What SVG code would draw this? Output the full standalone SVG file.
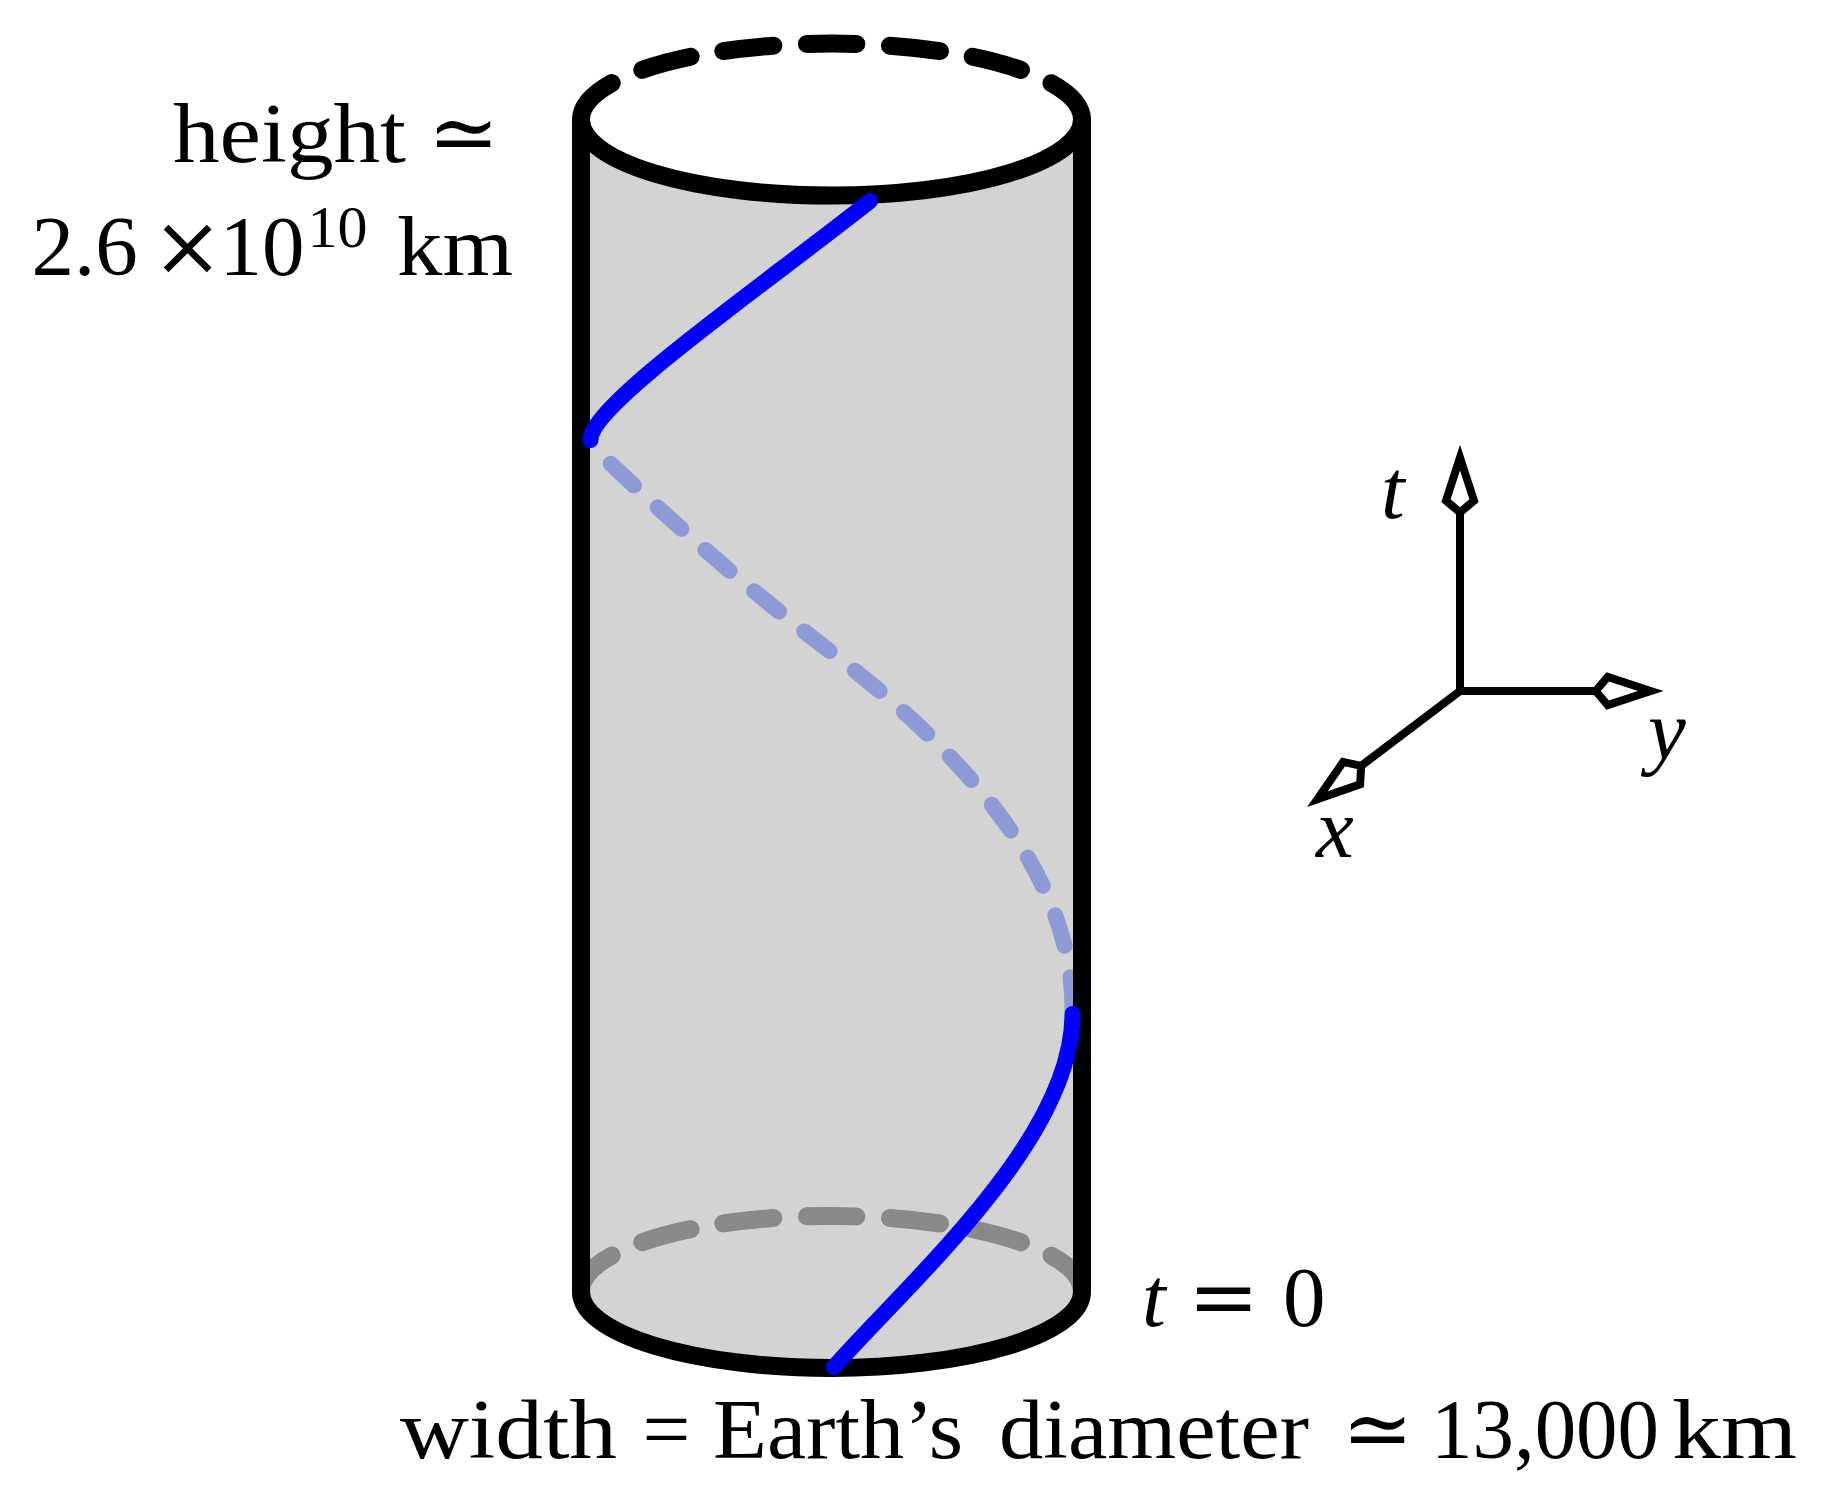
<svg xmlns="http://www.w3.org/2000/svg" width="1827" height="1492" viewBox="0 0 1827 1492">
<style>
.txt{font-family:"Liberation Serif","DejaVu Serif",serif;font-size:85px;fill:#000}
.it{font-style:italic}
.math{font-family:"DejaVu Serif","Liberation Serif",serif}
.outline{fill:none;stroke:#000;stroke-width:18;stroke-linejoin:round;stroke-linecap:round}
.backdash{fill:none;stroke-width:18;stroke-linecap:round;stroke-dasharray:50 33.37}
.helix{fill:none;stroke:#0000ff;stroke-width:16;stroke-linecap:round;stroke-linejoin:round}
.helixback{fill:none;stroke:#8e9ad6;stroke-width:16;stroke-linecap:round;stroke-dasharray:32 32}
.axis{fill:none;stroke:#000;stroke-width:8;stroke-linejoin:miter}
.kite{fill:#fff;stroke:#000;stroke-width:8;stroke-linejoin:miter;stroke-miterlimit:10}
</style>
<defs>
<path id="kite" d="M0,0 L-43,-14 L-55,0 L-43,14 Z"/>
</defs>
<rect width="1827" height="1492" fill="#fff"/>
<g id="cylinder">
<path id="cylinder-fill" d="M581,119.6 A250.5,76 0 0 0 1082,119.6 L1082,1292 A250.5,76 0 0 1 581,1292 Z" fill="#d3d3d3"/>
<path id="bottom-back-arc" class="backdash" stroke="#898989" d="M581,1292 A250.5,76 0 0 1 1082,1292"/>
</g>
<g id="helix-back">
<path class="helixback" d="M1072.5,1009.2 C1072.5,874.3 964.6,753.6 831.5,652.5 C690,545 612,462 590.5,446"/>
</g>
<g id="cylinder-outline">
<path id="top-back-arc" class="backdash" stroke="#000" d="M581,119.6 A250.5,76 0 0 1 1082,119.6"/>
<path class="outline" d="M581,119.6 L581,1292 A250.5,76 0 0 0 1082,1292 L1082,119.6 A250.5,76 0 0 1 581,119.6"/>
</g>
<g id="helix-front">
<path class="helix" d="M834,1367 C909,1282 1072.5,1140 1072.5,1014"/>
<path class="helix" d="M590.5,440 C590.5,405 760,288 870,201"/>
</g>
<g id="axes">
<path class="axis" d="M1460,512.6 L1460,691 L1595.7,691"/>
<path class="axis" d="M1460,691 L1361.3,765.8"/>
<use href="#kite" class="kite" transform="translate(1460,457.6) rotate(-90)"/>
<use href="#kite" class="kite" transform="translate(1650.7,691) rotate(0)"/>
<use href="#kite" class="kite" transform="translate(1317.4,799.1) rotate(142.8)"/>
<text class="txt it" x="1381" y="518">t</text>
<text class="txt it" x="1648" y="759">y</text>
<text class="txt it" x="1316" y="857">x</text>
</g>
<g id="label-height">
<text class="txt" y="162"><tspan x="173" textLength="233" lengthAdjust="spacingAndGlyphs">height</tspan> <tspan class="math" x="428">≃</tspan></text>
<text class="txt" y="275"><tspan x="31.5">2.6</tspan> <tspan class="math" x="152">×</tspan><tspan x="219.6">10</tspan><tspan x="307.4" y="247" font-size="60">10</tspan> <tspan x="397" y="275" textLength="116" lengthAdjust="spacingAndGlyphs">km</tspan></text>
</g>
<g id="label-t0">
<text class="txt" y="1326"><tspan class="it" x="1142">t</tspan> <tspan class="math" x="1188">=</tspan> <tspan x="1283">0</tspan></text>
</g>
<g id="label-width">
<text class="txt" y="1458"><tspan x="400" textLength="217" lengthAdjust="spacingAndGlyphs">width</tspan> <tspan x="642.5">=</tspan> <tspan x="713" textLength="250" lengthAdjust="spacingAndGlyphs">Earth’s</tspan> <tspan x="999" textLength="310" lengthAdjust="spacingAndGlyphs">diameter</tspan> <tspan class="math" x="1342">≃</tspan> <tspan x="1431" textLength="228" lengthAdjust="spacingAndGlyphs">13,000</tspan> <tspan x="1672" textLength="125" lengthAdjust="spacingAndGlyphs">km</tspan></text>
</g>
</svg>
